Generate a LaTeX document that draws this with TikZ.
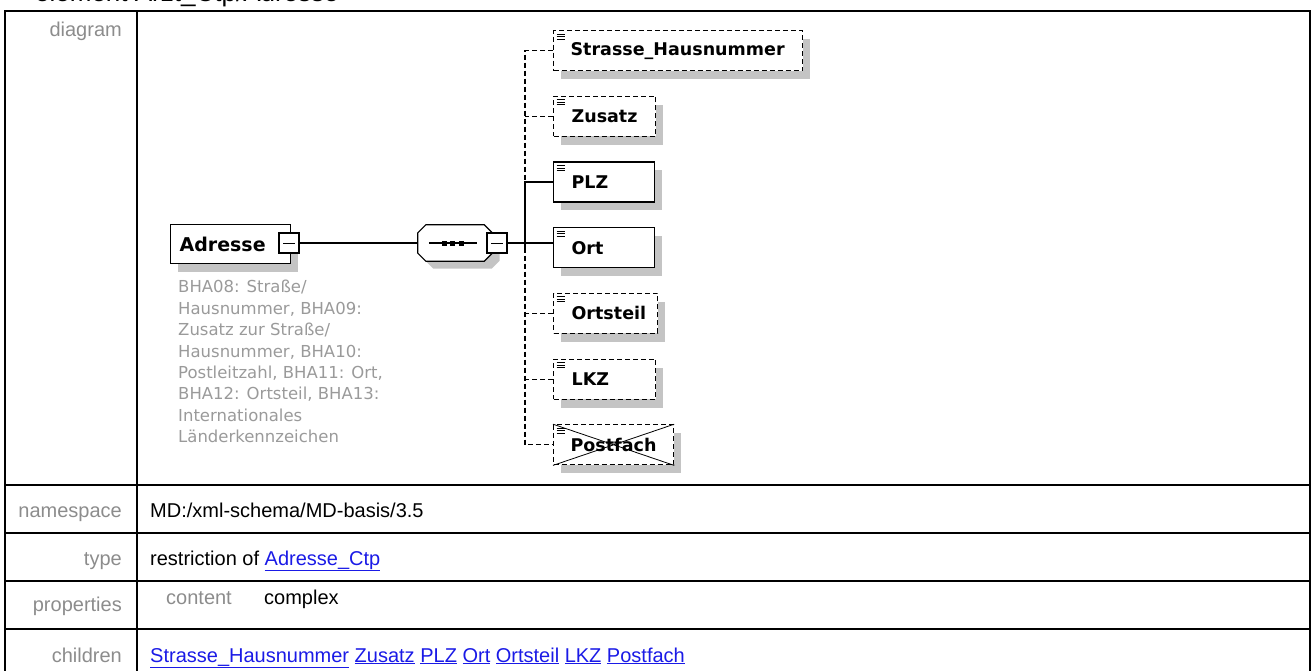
\documentclass[tikz,border=0pt]{standalone}
\usepackage{fontspec}
\setmainfont{Liberation Sans}
\newfontfamily\diafont{DejaVu Sans}
\usetikzlibrary{positioning,shadows}
\definecolor{LabelGray}{HTML}{8C8C8C}
\definecolor{NoteGray}{HTML}{9A9A9A}
\definecolor{ShadowGray}{HTML}{C4C4C4}
\definecolor{LinkBlue}{HTML}{1A1AE6}

\begin{document}
\begin{tikzpicture}[
  x=1pt, y=-1pt,
  node distance=24.5pt,
  elem/.style={draw, line width=1.2pt, fill=white, anchor=north west,
    minimum height=40pt, inner xsep=18pt, inner ysep=0pt, align=left,
    font=\diafont\bfseries\fontsize{17.5}{20}\selectfont,
    drop shadow={shadow xshift=7.5pt, shadow yshift=-8.5pt, fill=ShadowGray, opacity=1},
    path picture={\draw[solid, line width=0.9pt]
      ([shift={(3pt,-3.5pt)}]path picture bounding box.north west) -- ++(8pt,0pt)
      ++(-8pt,-2.5pt) -- ++(8pt,0pt) ++(-8pt,-2.5pt) -- ++(8pt,0pt);}},
  optelem/.style={elem, dash pattern=on 5pt off 3pt},
  minusbox/.style={draw, line width=1.2pt, fill=white, minimum size=20pt, inner sep=0pt,
    path picture={\draw[line width=1pt] ([xshift=4pt]path picture bounding box.west)
      -- ([xshift=-4pt]path picture bounding box.east);}},
  conn/.style={line width=1.2pt},
  optline/.style={line width=1.2pt, dash pattern=on 5pt off 3pt},
  tableline/.style={line width=2pt},
  lbl/.style={anchor=base east, inner sep=0pt, text=LabelGray, font=\fontsize{20}{24}\selectfont},
  val/.style={anchor=base west, inner sep=0pt, font=\fontsize{20}{24}\selectfont}
]
\useasboundingbox (0,0) rectangle (1311,671);

% table frame
\draw[tableline] (5,671) |- (1310,11) -- (1310,671);
\draw[tableline] (137,11) -- (137,671);
\foreach \y in {485,533,581,629}
  \draw[tableline] (5,\y) -- (1310,\y);

\node[anchor=base west, inner sep=0pt, font=\fontsize{26}{30}\selectfont] (title) at (35,2) {element Arzt\_Ctp/Adresse};

% row labels and values
\node[lbl] (diagramlbl) at (122,37) {diagram};
\node[lbl] (nslbl) at (122,517) {namespace};
\node[val] (nsval) at (150,517) {MD:/xml-schema/MD-basis/3.5};
\node[lbl] (typelbl) at (122,565) {type};
\node[val] (typeval) at (150,565) {restriction of \textcolor{LinkBlue}{\underline{Adresse\_Ctp}}};
\node[lbl] (proplbl) at (122,611) {properties};
\node[val, text=LabelGray] (contentlbl) at (166,604) {content};
\node[val] (contentval) at (264,604) {complex};
\node[lbl] (childlbl) at (122,662) {children};
\node[val, text=LinkBlue] (childval) at (150,662) {\underline{Strasse\_Hausnummer} \underline{Zusatz} \underline{PLZ} \underline{Ort} \underline{Ortsteil} \underline{LKZ} \underline{Postfach}};

% root element
\node[elem, path picture={}, minimum height=39pt, inner xsep=9pt, text width=102pt,
  font=\diafont\bfseries\fontsize{19}{22}\selectfont] (adresse) at (170,224) {Adresse};
\node[minusbox] (adrminus) at (289,243) {};
\node[inner sep=0pt, below=16pt of adresse.south west, anchor=north west, xshift=8pt, align=left,
  text=NoteGray, font=\diafont\fontsize{16.5}{21.4}\selectfont] (adrnote)
  {BHA08: Straße/\\Hausnummer, BHA09:\\Zusatz zur Straße/\\Hausnummer, BHA10:\\Postleitzahl, BHA11: Ort,\\BHA12: Ortsteil, BHA13:\\Internationales\\Länderkennzeichen};

% sequence
\node[minimum width=74pt, minimum height=36pt, inner sep=0pt] (seq) at (455,243) {};
\draw[line width=1.2pt, fill=white, drop shadow={shadow xshift=7.5pt, shadow yshift=-7.5pt, fill=ShadowGray, opacity=1}]
  ([xshift=8pt]seq.north west) -- ([xshift=-8pt]seq.north east) -- ([yshift=-8pt]seq.north east)
  -- ([yshift=8pt]seq.south east) -- ([xshift=-8pt]seq.south east) -- ([xshift=8pt]seq.south west)
  -- ([yshift=8pt]seq.south west) -- ([yshift=-8pt]seq.north west) -- cycle;
\draw[line width=1.2pt] ([xshift=11pt]seq.west) -- ([xshift=-15pt]seq.east);
\foreach \dx in {-11,-2.5,6}
  \fill ([xshift=\dx pt]seq.center) +(-2.5pt,-2.5pt) rectangle +(2.5pt,2.5pt);
\node[minusbox] (seqminus) at (497,243) {};

% children
\node[optelem, inner xsep=17pt, text width=215pt] (strasse) at (553,30) {Strasse\_Hausnummer};
\node[optelem, text width=66pt, below=of strasse.south west, anchor=north west] (zusatz) {Zusatz};
\node[elem, text width=65pt, below=of zusatz.south west, anchor=north west] (plz) {PLZ};
\node[elem, text width=65pt, below=of plz.south west, anchor=north west] (ort) {Ort};
\node[optelem, text width=68pt, below=of ort.south west, anchor=north west] (ortsteil) {Ortsteil};
\node[optelem, text width=66pt, below=of ortsteil.south west, anchor=north west] (lkz) {LKZ};
\node[optelem, inner xsep=17pt, text width=86pt, below=of lkz.south west, anchor=north west] (postfach) {Postfach};
\draw[line width=0.8pt] (postfach.north west) -- (postfach.south east)
  (postfach.south west) -- (postfach.north east);

% connectors
\coordinate (bus) at (525,243);
\draw[conn] (adrminus) -- (seq);
\draw[conn] (seqminus.east) -- (seqminus.east -| ort.west);
\draw[optline] (strasse.west) -- (strasse.west -| bus) -- (plz.west -| bus);
\draw[optline] (zusatz.west) -- (zusatz.west -| bus);
\draw[conn] (plz.west) -- (plz.west -| bus) -- (ort.west -| bus);
\draw[optline] (ort.west -| bus) -- (postfach.west -| bus) -- (postfach.west);
\draw[optline] (ortsteil.west) -- (ortsteil.west -| bus);
\draw[optline] (lkz.west) -- (lkz.west -| bus);
\end{tikzpicture}
\end{document}
